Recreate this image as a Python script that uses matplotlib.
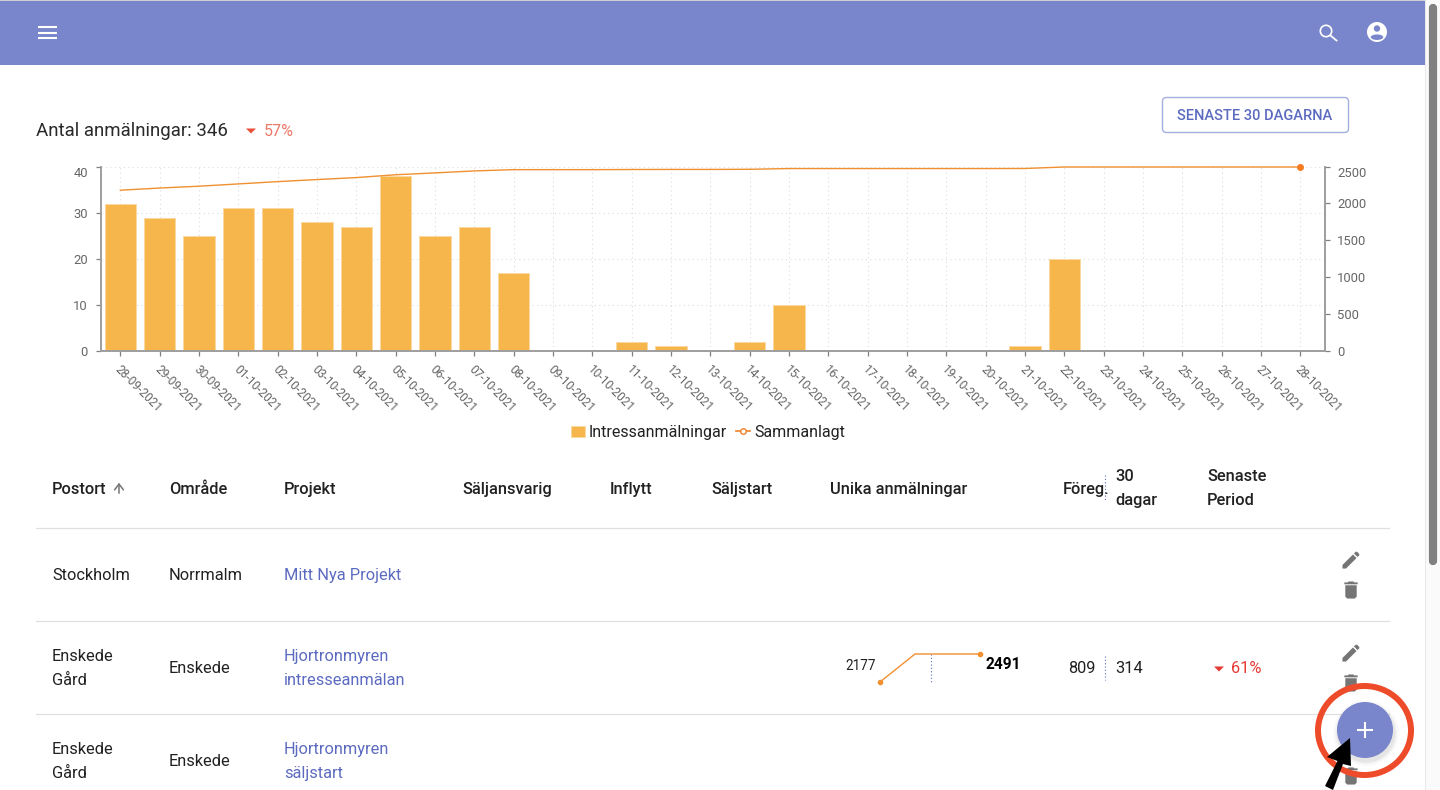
import matplotlib
matplotlib.use('Agg')
import matplotlib.pyplot as plt
from matplotlib.lines import Line2D
from matplotlib.patches import Patch, Circle, Ellipse, FancyBboxPatch, Rectangle, Polygon
from matplotlib.transforms import ScaledTranslation

plt.rcParams['font.family'] = ['Roboto', 'DejaVu Sans']

dates = ['28-09-2021', '29-09-2021', '30-09-2021', '01-10-2021', '02-10-2021', '03-10-2021',
         '04-10-2021', '05-10-2021', '06-10-2021', '07-10-2021', '08-10-2021', '09-10-2021',
         '10-10-2021', '11-10-2021', '12-10-2021', '13-10-2021', '14-10-2021', '15-10-2021',
         '16-10-2021', '17-10-2021', '18-10-2021', '19-10-2021', '20-10-2021', '21-10-2021',
         '22-10-2021', '23-10-2021', '24-10-2021', '25-10-2021', '26-10-2021', '27-10-2021',
         '28-10-2021']
signups = [32, 29, 25, 31, 31, 28, 27, 38, 25, 27, 17, 0, 0, 2, 1, 0, 2, 10, 0, 0, 0, 0, 0, 1, 20,
           0, 0, 0, 0, 0, 0]
total = [2177, 2206, 2231, 2262, 2293, 2321, 2348, 2386, 2411, 2438, 2455, 2455, 2455, 2457, 2458,
         2458, 2460, 2470, 2470, 2470, 2470, 2470, 2470, 2471, 2491, 2491, 2491, 2491, 2491, 2491,
         2491]
left_ticks = [0, 10, 20, 30, 40]
right_ticks = [0, 500, 1000, 1500, 2000, 2491]
right_labels = ['0', '500', '1000', '1500', '2000', '2500']

spark_x = [0, 35, 100]
spark_y = [2177, 2491, 2491]

INDIGO = '#7986cb'
LINK = '#5c6bc0'
BAR = '#f6b64c'
LINE = '#f09030'
RED = '#e8503a'
GREY = '#757575'
AXIS = '#9e9e9e'
TICK = '#666666'
DARK = '#212121'


def px(v):
    # css pixels to points
    return v * 0.72


fig = plt.figure(figsize=(14.4, 7.9), dpi=100, facecolor='white')

# whole page, in pixel coords
page = fig.add_axes([0, 0, 1, 1])
page.set_xlim(0, 1440)
page.set_ylim(790, 0)
page.axis('off')


def label(x, y, s, size=16.4, color=DARK, weight='normal', ha='left', **kw):
    return page.text(x, y + 1.5, s, fontsize=px(size), color=color, fontweight=weight, ha=ha,
                     va='center', **kw)


def triangle(x, y, color=RED):
    page.add_patch(Polygon([(x - 5, y - 2.5), (x + 5, y - 2.5), (x, y + 2.5)], color=color, lw=0))


def pencil(cx, cy, s=0.95, z=3):
    pts = [(3, 17.25), (3, 21), (6.75, 21), (17.81, 9.94), (14.06, 6.19)]
    tip = [(15.13, 5.12), (16.96, 3.29), (18.37, 3.29), (20.71, 5.63), (20.71, 7.04), (18.88, 8.87)]
    for p in (pts, tip):
        page.add_patch(Polygon([(cx + (a - 12) * s, cy + (b - 12) * s) for a, b in p], color=GREY,
                               lw=0, zorder=z))


def trash(cx, cy, s=0.95, z=3):
    body = [(6, 7), (18, 7), (18, 19), (16, 21), (8, 21), (6, 19)]
    lid = [(5, 4), (8.5, 4), (9.5, 3), (14.5, 3), (15.5, 4), (19, 4), (19, 6), (5, 6)]
    for p in (body, lid):
        page.add_patch(Polygon([(cx + (a - 12) * s, cy + (b - 12) * s) for a, b in p], color=GREY,
                               lw=0, zorder=z))


# header bar + scrollbar
page.add_patch(Rectangle((0, 0), 1425, 65, color=INDIGO, lw=0))
page.add_patch(Rectangle((0, 0), 1425, 1, color='#cfcfcf', lw=0))
page.add_patch(Rectangle((1425, 0), 15, 790, color='#fafafa', lw=0))
page.add_patch(Rectangle((1425, 0), 1.2, 790, color='#e8e8e8', lw=0))
page.add_patch(FancyBboxPatch((1431, 6), 4, 557, boxstyle='round,pad=0,rounding_size=2', mutation_aspect=1,
                              fc='#808080', ec='#808080', lw=3))
for y in (27, 32.5, 38):
    page.plot([38, 57], [y, y], color='white', lw=1.5, solid_capstyle='butt')
page.add_patch(Circle((1326, 31), 5.7, fc='none', ec='white', lw=1.2))
page.plot([1330.5, 1336.5], [35.5, 40.5], color='white', lw=1.3)
page.add_patch(Circle((1377, 32), 10, color='white', lw=0))
page.add_patch(Circle((1377, 28.5), 3.2, color=INDIGO, lw=0))
page.add_patch(Ellipse((1377, 37.2), 12.5, 5.5, color=INDIGO, lw=0))

# summary row
label(36, 129, 'Antal anmälningar: 346', size=18.6, color='#2a2a2a')
triangle(251, 131, color=RED)
label(264, 129.5, '57%', size=16, color='#ec7a68')
page.add_patch(FancyBboxPatch((1162.5, 97.5), 186, 35, boxstyle='round,pad=0,rounding_size=4',
                              fc='white', ec='#a4aee0', lw=1))
label(1255, 114, 'SENASTE 30 DAGARNA', size=14.6, color=LINK, weight='medium', ha='center')

# table
for y in (528, 621, 714):
    page.plot([36, 1389], [y, y], color='#e0e0e0', lw=0.9)
for x, s in [(52, 'Postort'), (169, 'Område'), (284, 'Projekt'), (462, 'Säljansvarig'),
             (610, 'Inflytt'), (711, 'Säljstart'), (830, 'Unika anmälningar'), (1063, 'Föreg.')]:
    label(x, 488, s, weight='medium')
page.annotate('', xy=(119, 480), xytext=(119, 496),
              arrowprops=dict(arrowstyle='->,head_width=0.32,head_length=0.42', color=GREY, lw=1.1))
label(1115, 475, '30', weight='medium')
label(1115, 499, 'dagar', weight='medium')
label(1207, 475, 'Senaste', weight='medium')
label(1207, 499, 'Period', weight='medium')
page.plot([1105, 1105], [475, 500], color=LINK, lw=0.8, ls=(0, (1, 2)))

label(52, 574, 'Stockholm')
label(169, 574, 'Norrmalm')
label(284, 574, 'Mitt Nya Projekt', color=LINK)

label(52, 655, 'Enskede')
label(52, 679, 'Gård')
label(169, 667, 'Enskede')
label(284, 655, 'Hjortronmyren', color=LINK)
label(284, 679, 'intresseanmälan', color=LINK)
label(845, 664, '2177', size=13.5)
label(985, 663, '2491', size=15.5, weight='bold', color='black')
label(1068, 667, '809')
page.plot([1105, 1105], [656, 680], color=LINK, lw=0.8, ls=(0, (1, 2)))
label(1115, 667, '314')
triangle(1219, 669, color='#e53935')
label(1231, 667, '61%', color='#e53935')

label(52, 748, 'Enskede')
label(52, 772, 'Gård')
label(169, 760, 'Enskede')
label(284, 748, 'Hjortronmyren', color=LINK)
label(284, 772, 'säljstart', color=LINK)

pencil(1351, 560)
trash(1351, 590)
pencil(1351, 653)
trash(1351, 683)
trash(1351, 776)

# add button, ring and arrow on top of the table
for r, a in [(33, 0.02), (31, 0.03), (29.5, 0.05)]:
    page.add_patch(Circle((1366, 733), r, color='black', alpha=a, lw=0, zorder=4))
page.add_patch(Circle((1365, 730), 28, color=INDIGO, lw=0, zorder=5))
page.plot([1365, 1365], [723, 737], color='white', lw=1.5, zorder=6)
page.plot([1358, 1372], [730, 730], color='white', lw=1.5, zorder=6)
page.add_patch(Ellipse((1364.5, 730.5), 93, 89, fc='none', ec='#ee4b2b', lw=px(6), zorder=6))
page.add_patch(Polygon([(1350, 738), (1327, 757), (1337.5, 761), (1325, 786), (1333, 790), (1343, 764),
                        (1351, 766)], color='black', lw=0, zorder=7))

# chart
ax = fig.add_axes([100.7 / 1440, 1 - 351 / 790, (1325.3 - 100.7) / 1440, 184 / 790])
ax.patch.set_alpha(0)
ax.set_axisbelow(True)
xs = list(range(len(dates)))
ax.bar(xs, signups, width=0.79, color=BAR, edgecolor='#fbd9a0', linewidth=0.7, zorder=2)
ax.set_xlim(-0.5, 30.636)
ax.set_ylim(0, 40)
ax.set_xticks(xs)
ax.set_xticklabels(dates, rotation=-45, ha='left', va='center', rotation_mode='anchor')
ax.set_yticks(left_ticks)
ax.grid(True, color='#dcdcdc', lw=0.8, ls=(0, (1, 3)), zorder=0)
ax.tick_params(axis='x', length=px(5), width=0.9, color='#808080', labelcolor=TICK,
               labelsize=px(12), pad=px(12))
ax.tick_params(axis='y', length=px(5), width=0.9, color='#808080', labelcolor=TICK,
               labelsize=px(13), pad=px(8))
ax.get_yticklabels()[-1].set_va('top')
shift = ScaledTranslation(-3 / 100, 0, fig.dpi_scale_trans)
for t in ax.get_xticklabels():
    t.set_transform(t.get_transform() + shift)

ax2 = ax.twinx()
ax2.plot(xs, total, color=LINE, lw=1.0, marker='o', ms=4, mfc='#f57c20', mec='#f57c20',
         markevery=[len(xs) - 1], clip_on=False, zorder=4)
ax2.set_ylim(0, 2491)
ax2.set_yticks(right_ticks)
ax2.set_yticklabels(right_labels)
ax2.tick_params(axis='y', length=px(5), width=0.9, color='#808080', labelcolor=TICK,
                labelsize=px(13), pad=px(7))
ax2.get_yticklabels()[-1].set_va('top')

for a in (ax, ax2):
    a.spines['top'].set_visible(False)
    for side in ('left', 'right', 'bottom'):
        a.spines[side].set_color(AXIS)
        a.spines[side].set_linewidth(1.2)

handles = [Patch(fc=BAR, ec='#fbd9a0', lw=0.7),
           Line2D([], [], color='#f0802a', lw=1.2, marker='o', ms=4, mfc='white', mec='#f0802a')]
fig.legend(handles, ['Intressanmälningar', 'Sammanlagt'], loc='center',
           bbox_to_anchor=(708 / 1440, 1 - 432.5 / 790), ncol=2, frameon=False, fontsize=px(16),
           handlelength=0.875, handleheight=0.7, handletextpad=0.25, columnspacing=0.6, labelcolor=DARK)

# sparkline in the table
spark = fig.add_axes([880 / 1440, 1 - 682 / 790, 100 / 1440, 28 / 790])
spark.axis('off')
spark.set_xlim(0, 100)
spark.set_ylim(2177, 2491)
spark.plot(spark_x, spark_y, color=LINE, lw=1.0, clip_on=False)
spark.plot([spark_x[0], spark_x[-1]], [spark_y[0], spark_y[-1]], ls='', marker='o', ms=3,
           color=LINE, clip_on=False)
page.plot([931, 931], [654, 684], color=LINK, lw=0.8, ls=(0, (1, 2)))

fig.savefig('out.png', dpi=100)
